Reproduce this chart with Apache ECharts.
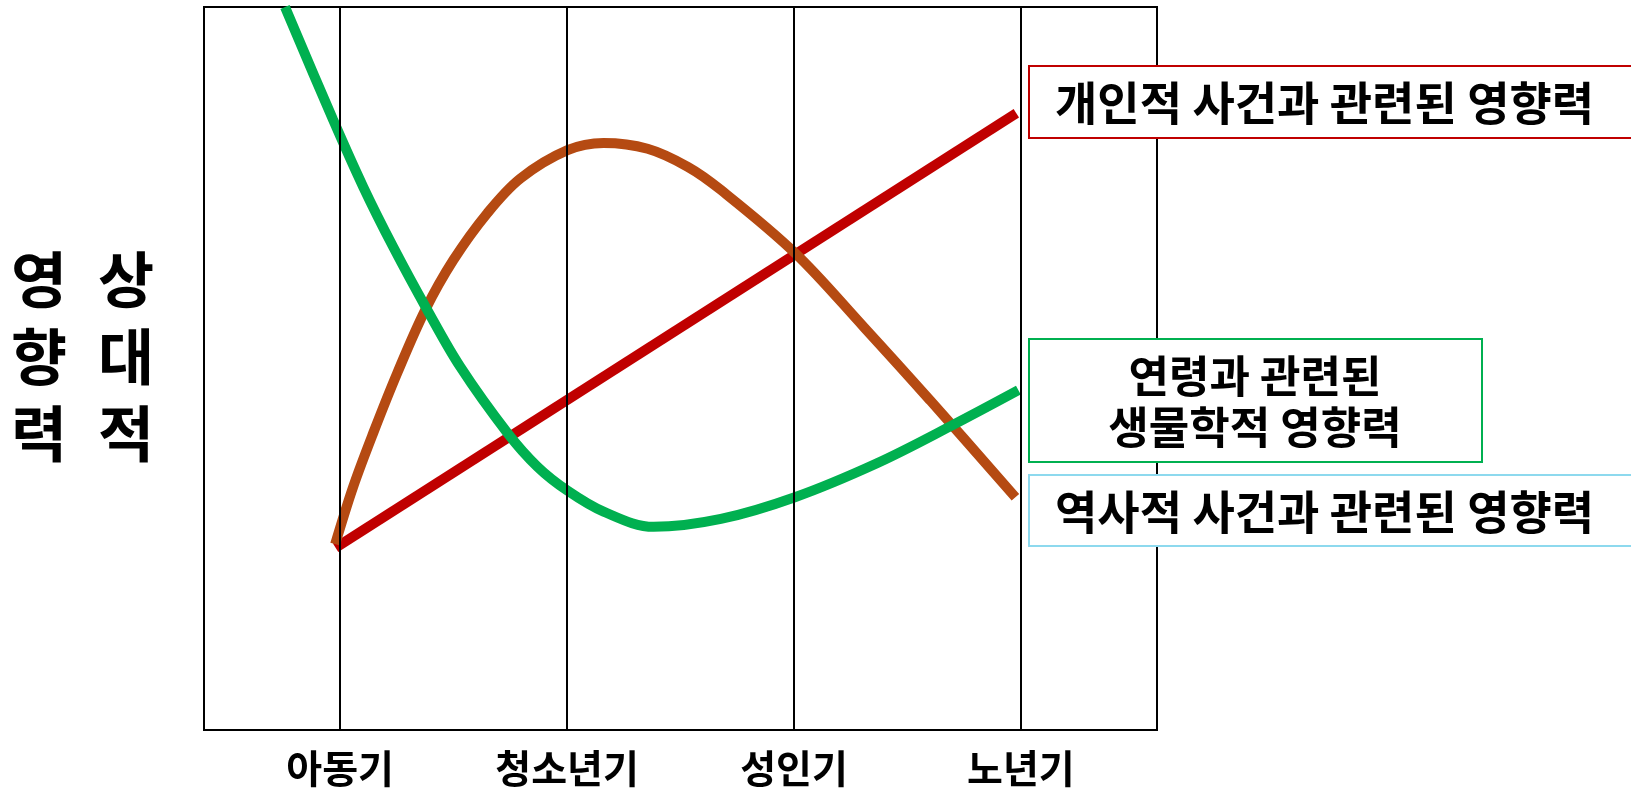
<!DOCTYPE html>
<html>
<head>
<meta charset="utf-8">
<script src="https://cdn.jsdelivr.net/npm/echarts@6/dist/echarts.min.js"></script>
<style>
  html, body { margin: 0; padding: 0; background: #fff; }
  #chart { width: 1631px; height: 796px; }
</style>
</head>
<body>
<div id="chart"></div>
<script>
// 생애 단계 (x축 눈금)
const stages = ['아동기', '청소년기', '성인기', '노년기'];
const stagePos = [1, 2, 3, 4];

// 곡선 데이터 [x, 상대적 영향력]
const personalEvents = [[0.98, 25.2], [3.98, 85.3]];
const historicalEvents = [
  [0.978, 25.7], [1.057, 33.6], [1.146, 41.1], [1.252, 49.4], [1.375, 58.1],
  [1.499, 65.0], [1.649, 71.5], [1.795, 76.3], [2.002, 80.2], [2.161, 81.2],
  [2.355, 80.4], [2.532, 77.9], [2.678, 74.7], [3.004, 66.0], [3.309, 55.7],
  [3.6, 45.6], [3.976, 32.2]
];
const ageBiological = [
  [0.757, 100], [0.969, 84.4], [1.102, 75.1], [1.234, 66.8], [1.384, 58.1],
  [1.53, 50.2], [1.737, 41.1], [1.87, 36.4], [2.002, 33.1], [2.161, 30.2],
  [2.382, 28.1], [2.678, 29.2], [3.004, 32.2], [3.366, 36.9], [3.689, 42.0],
  [3.989, 47.0]
];

const font = '"Noto Sans CJK KR", "Noto Sans", sans-serif';

const chart = echarts.init(document.getElementById('chart'));

chart.setOption({
  animation: false,
  grid: {
    left: 204, top: 7, right: 474, bottom: 66,
    show: true, borderColor: '#000', borderWidth: 2
  },
  xAxis: {
    type: 'value', min: 0.4, max: 4.6,
    axisLine: { show: false },
    axisTick: { show: false },
    splitLine: { show: false },
    axisLabel: {
      customValues: stagePos,
      formatter: v => stages[stagePos.indexOf(Math.round(v))] || '',
      color: '#000', fontSize: 39, fontWeight: 'bold', fontFamily: font,
      margin: 19
    }
  },
  yAxis: {
    type: 'value', min: 0, max: 100,
    axisLine: { show: false },
    axisTick: { show: false },
    splitLine: { show: false },
    axisLabel: { show: false }
  },
  series: [
    {
      name: '개인적 사건과 관련된 영향력',
      type: 'line',
      data: personalEvents,
      symbol: 'none',
      lineStyle: { color: '#C00000', width: 10, cap: 'butt' },
      markLine: {
        silent: true,
        symbol: ['none', 'none'],
        label: { show: false },
        lineStyle: { color: '#000', width: 2, type: 'solid' },
        data: stagePos.map(p => ({ xAxis: p }))
      }
    },
    {
      name: '역사적 사건과 관련된 영향력',
      type: 'line',
      data: historicalEvents,
      smooth: 0.35,
      symbol: 'none',
      lineStyle: { color: '#B54A12', width: 10, cap: 'butt' }
    },
    {
      name: '연령과 관련된 생물학적 영향력',
      type: 'line',
      data: ageBiological,
      smooth: 0.35,
      symbol: 'none',
      lineStyle: { color: '#00B050', width: 10, cap: 'butt' }
    }
  ],
  graphic: [
    // y축 제목 (세로쓰기)
    {
      type: 'text', z: 100,
      style: {
        text: '상\n대\n적', x: 126, y: 357, align: 'center', verticalAlign: 'middle',
        fontSize: 61, fontWeight: 'bold', fontFamily: font, lineHeight: 77, fill: '#000'
      }
    },
    {
      type: 'text', z: 100,
      style: {
        text: '영\n향\n력', x: 39, y: 357, align: 'center', verticalAlign: 'middle',
        fontSize: 61, fontWeight: 'bold', fontFamily: font, lineHeight: 77, fill: '#000'
      }
    },
    // 범례 상자
    {
      type: 'rect', z: 100,
      shape: { x: 1029, y: 66, width: 640, height: 72 },
      style: { fill: '#fff', stroke: '#C00000', lineWidth: 2 }
    },
    {
      type: 'text', z: 101,
      style: {
        text: '개인적 사건과 관련된 영향력', x: 1055, y: 103, verticalAlign: 'middle',
        fontSize: 46, fontWeight: 'bold', fontFamily: font, fill: '#000'
      }
    },
    {
      type: 'rect', z: 100,
      shape: { x: 1029, y: 339, width: 453, height: 123 },
      style: { fill: '#fff', stroke: '#00B050', lineWidth: 2 }
    },
    {
      type: 'text', z: 101,
      style: {
        text: '연령과 관련된\n생물학적 영향력', x: 1255, y: 402, align: 'center', verticalAlign: 'middle',
        fontSize: 44, fontWeight: 'bold', fontFamily: font, lineHeight: 51, fill: '#000'
      }
    },
    {
      type: 'rect', z: 100,
      shape: { x: 1029, y: 475, width: 640, height: 71 },
      style: { fill: '#fff', stroke: '#8DD9EE', lineWidth: 2 }
    },
    {
      type: 'text', z: 101,
      style: {
        text: '역사적 사건과 관련된 영향력', x: 1055, y: 512, verticalAlign: 'middle',
        fontSize: 46, fontWeight: 'bold', fontFamily: font, fill: '#000'
      }
    }
  ]
});
</script>
</body>
</html>
